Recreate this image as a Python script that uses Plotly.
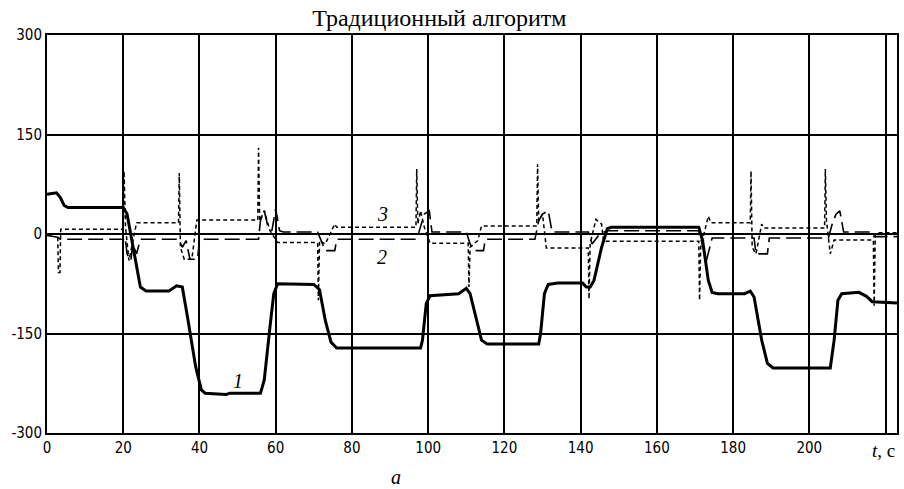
import plotly.graph_objects as go

# Curve 1 (thick solid)
t1 = [0, 2.5, 3.5, 4.5, 5.5, 20, 21, 23, 24.5, 26, 32, 34, 35.5, 37, 39, 40.5, 41.5, 47, 48, 56,
      57, 58.5, 59.5, 60.5, 70, 71.5, 73, 74.5, 76, 98, 98.5, 99.5, 100.5, 108, 110, 111, 113, 114,
      115.5, 129, 129.5, 130.5, 131.5, 134, 140.5, 141.5, 142.5, 143.5, 145.5, 147, 148, 171, 172,
      173.5, 174.5, 176, 183, 184.5, 185.5, 187.5, 189, 190.5, 205.5, 206.5, 207.5, 208.5, 213, 215,
      216.5, 223]
y1 = [60, 62, 55, 43, 40, 40, 30, -30, -80, -86, -86, -78, -80, -130, -200, -235, -240, -242, -240, -240,
      -220, -140, -90, -75, -76, -84, -130, -163, -172, -172, -160, -105, -93, -90, -82, -90, -140, -160,
      -166, -166, -150, -90, -76, -74, -74, -80, -80, -70, -20, 8, 10, 10, -10,
      -70, -88, -90, -90, -86, -95, -160, -195, -202, -202, -160, -100, -90, -88, -94,
      -102, -104]

# Curve 2 (long dash)
t2 = [0, 2.8, 3.5, 20, 20.5, 21, 22, 22.5, 23.5, 24.5, 34.5, 35.5, 36.5, 37.5, 39.5, 40, 55.5, 56, 57, 58,
      59, 60, 61, 62, 71, 72, 73, 75.5, 76, 97, 98, 99, 100.3, 101, 110, 111, 112, 114.5, 115, 128, 129,
      130, 131.5, 132.5, 142, 143, 145, 147, 171, 172, 173, 174.5, 185.5, 186, 189, 189.5, 205, 206, 207,
      208, 209, 216.5, 217, 223]
y2 = [-2, -5, -8, -8, -5, -30, -40, -15, -30, -8, -8, -20, -10, -38, -38, -8, -8, 20, 35, 10,
      5, 38, 5, 3, 3, -10, -25, -25, -8, -8, 10, 30, 35, 3, 3, -15, -25, -25, -8, -8, 20,
      30, 35, 3, 3, -15, 0, 5, 5, -20, -40, -6, -6, -30, -30, -6, -6, 15, 30,
      35, 3, 3, -4, -4]

# Curve 3 (short dash)
t3 = [0, 2.8, 3, 3.4, 3.6, 20, 20.2, 20.6, 21.5, 22.5, 23.5, 34.5, 34.7, 35, 36, 38, 39.3, 55.3, 55.5,
      55.8, 57, 58.5, 60.5, 71, 71.2, 71.5, 73, 75.5, 76, 96.8, 97, 97.3, 98, 99, 100.5, 110.5, 110.7,
      111, 113, 114, 128.5, 128.7, 129, 130, 131, 142, 142.2, 142.5, 144, 145.5, 146, 171, 171.2, 171.5,
      173.5, 174.2, 184.5, 184.7, 185, 186, 187.5, 188, 204, 204.2, 204.5, 205.5, 206.5, 216.8, 217,
      217.3, 218, 223]
y3 = [0, 0, -58, -58, 7, 7, 95, 10, -40, -10, 17, 17, 92, -20, -38, -38, 21, 21, 130,
      20, 35, 5, -13, -13, -100, -10, -15, 15, 10, 10, 98, 15, 35, 10, -14, -14, -80,
      -20, -10, 12, 12, 105, 20, 30, -21, -21, -98, -15, 22, 15, -11, -11, -100, -20,
      27, 17, 17, 95, -20, -30, 15, 9, 9, 98, 20, -30, -9, -9, -108,
      0, 2, 2]

x_ticks = [0, 20, 40, 60, 80, 100, 120, 140, 160, 180, 200, 220]
x_labels = ["0", "20", "40", "60", "80", "100", "120", "140", "160", "180", "200", ""]
y_ticks = [-300, -150, 0, 150, 300]
y_labels = ["-300", "-150", "0", "150", "300"]

tick_font = dict(family="Liberation Sans Narrow, DejaVu Sans Condensed, Arial Narrow, sans-serif",
                 size=15, color="black")
serif = "Liberation Serif, Times New Roman, serif"

fig = go.Figure()
fig.add_trace(go.Scatter(x=t2, y=y2, mode="lines",
                         line=dict(color="black", width=1.6, dash="15px,6px")))
fig.add_trace(go.Scatter(x=t3, y=y3, mode="lines",
                         line=dict(color="black", width=1.5, dash="4px,3px")))
fig.add_trace(go.Scatter(x=t1, y=y1, mode="lines",
                         line=dict(color="black", width=3)))

fig.update_layout(
    width=904, height=489,
    margin=dict(l=47, r=7, t=35, b=56, autoexpand=False),
    paper_bgcolor="white", plot_bgcolor="white",
    showlegend=False,
    title=dict(text="Традиционный алгоритм", x=0.486, xanchor="center", y=0.963, yanchor="middle",
               font=dict(family=serif, size=24, color="black")),
    xaxis=dict(range=[0, 223], tickvals=x_ticks, ticktext=x_labels,
               showgrid=True, gridcolor="black", gridwidth=1.5,
               showline=True, linecolor="black", linewidth=2, mirror=True,
               ticks="", tickfont=tick_font, zeroline=False, automargin=False),
    yaxis=dict(range=[-300, 300], tickvals=y_ticks, ticktext=y_labels,
               showgrid=True, gridcolor="black", gridwidth=1.5,
               showline=True, linecolor="black", linewidth=2, mirror=True,
               ticks="", tickfont=tick_font, zeroline=False, automargin=False),
)

ann_font = dict(family=serif, size=20, color="black")
fig.add_annotation(x=50, y=-222, text="<i>1</i>", showarrow=False, font=ann_font)
fig.add_annotation(x=88, y=-35, text="<i>2</i>", showarrow=False, font=ann_font)
fig.add_annotation(x=88, y=30, text="<i>3</i>", showarrow=False, font=ann_font)
fig.add_annotation(xref="paper", yref="paper", x=1.0, y=-0.045, xanchor="right", yanchor="middle",
                   text="<i>t</i>, с", showarrow=False, font=dict(family=serif, size=19, color="black"))
fig.add_annotation(xref="paper", yref="paper", x=0.41, y=-0.11, xanchor="center", yanchor="middle",
                   text="<i>а</i>", showarrow=False, font=dict(family=serif, size=20, color="black"))

fig.write_html("out.html", config={"displayModeBar": False},
               post_script="document.body.style.margin='0';document.body.style.overflow='hidden';")
